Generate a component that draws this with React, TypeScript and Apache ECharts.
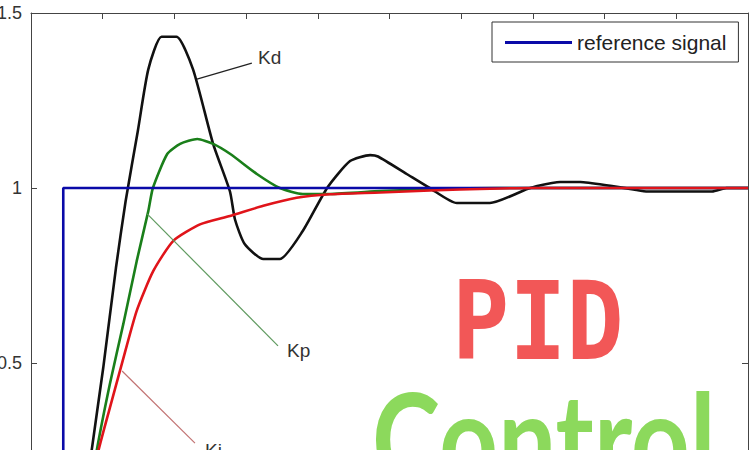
import React, { useEffect, useRef } from "react";
import * as echarts from "echarts";

// time (s) / response pairs
const refData: [number, number][] = [[0, 0], [0.45, 0], [0.45, 1], [10, 1]];
const kdData: [number, number][] = [
  [0, 0], [0.7, 0], [0.846, 0.25], [1.008, 0.487], [1.185, 0.772], [1.32, 0.963],
  [1.49, 1.163], [1.636, 1.339], [1.82, 1.432], [2.03, 1.432], [2.26, 1.339],
  [2.54, 1.126], [2.775, 0.99], [2.845, 0.91], [2.98, 0.84], [3.24, 0.797],
  [3.47, 0.797], [3.79, 0.877], [4.13, 1.0], [4.45, 1.077], [4.73, 1.094],
  [4.84, 1.09], [5.24, 1.04], [5.56, 1.0], [5.94, 0.957], [6.4, 0.957],
  [6.92, 0.997], [7.06, 1.006], [7.38, 1.017], [7.66, 1.017], [8.08, 1.006],
  [8.4, 0.996], [8.6, 0.99], [9.5, 0.99], [9.7, 1.0], [10, 1.0],
];
const kpData: [number, number][] = [
  [0, 0], [0.72, 0], [0.916, 0.249], [1.1, 0.44], [1.287, 0.611], [1.474, 0.791],
  [1.636, 0.934], [1.7, 1.0], [1.9, 1.097], [2.08, 1.126], [2.32, 1.14],
  [2.54, 1.126], [2.78, 1.097], [3.15, 1.04], [3.47, 1.0], [3.79, 0.983],
  [4.17, 0.983], [4.87, 0.991], [5.6, 0.997], [6.5, 1.0], [10, 1.0],
];
const kiData: [number, number][] = [
  [0, 0], [0.68, 0], [0.94, 0.249], [1.1, 0.372], [1.265, 0.496], [1.474, 0.649],
  [1.706, 0.763], [1.985, 0.849], [2.357, 0.896], [2.775, 0.92], [3.24, 0.949],
  [3.705, 0.972], [4.17, 0.982], [4.87, 0.987], [5.565, 0.993], [6.4, 0.998],
  [7, 1.0], [10, 1.0],
];
// leader lines for the annotations (data coordinates)
const kdLeader: [number, number][] = [[2.315, 1.311], [3.08, 1.357]];
const kpLeader: [number, number][] = [[1.62, 0.926], [3.445, 0.549]];
const kiLeader: [number, number][] = [[1.27, 0.477], [2.287, 0.271]];

const legendNames = ["reference signal"];

export default function App() {
  const ref = useRef<HTMLDivElement>(null);
  useEffect(() => {
    if (!ref.current) return;
    const chart = echarts.init(ref.current, null, { renderer: "svg" });
    const axisLine = { show: true, onZero: false, lineStyle: { color: "#444", width: 1 } };
    const axisTick = { show: true, inside: true, length: 6, lineStyle: { color: "#444" } };
    const leader = (pts: [number, number][], color: string) => ({
      silent: true,
      symbol: ["none", "none"],
      label: { show: false },
      emphasis: { disabled: true },
      lineStyle: { color, width: 1.2, type: "solid" },
      data: [[{ coord: pts[0] }, { coord: pts[1] }]],
    });
    chart.setOption({
      animation: false,
      backgroundColor: "#fff",
      grid: { left: 31, right: 2, top: 13, bottom: 22, outerBoundsMode: "none", containLabel: false },
      xAxis: [
        { type: "value", min: 0, max: 10, interval: 1, position: "bottom", axisLine, axisTick, axisLabel: { show: false }, splitLine: { show: false } },
        { type: "value", min: 0, max: 10, interval: 1, position: "top", axisLine, axisTick, axisLabel: { show: false }, splitLine: { show: false } },
      ],
      yAxis: [
        {
          type: "value", min: 0, max: 1.5, interval: 0.5, position: "left", axisLine, axisTick,
          axisLabel: { color: "#333", fontSize: 18, fontFamily: "Liberation Sans", margin: 9 },
          splitLine: { show: false },
        },
        { type: "value", min: 0, max: 1.5, interval: 0.5, position: "right", axisLine, axisTick, axisLabel: { show: false }, splitLine: { show: false } },
      ],
      legend: {
        data: legendNames,
        left: 492,
        top: 22,
        padding: [10, 12, 9, 13],
        itemWidth: 67,
        itemHeight: 3,
        icon: "rect",
        selectedMode: false,
        borderColor: "#333",
        borderWidth: 1,
        backgroundColor: "#fff",
        textStyle: { fontSize: 21, fontFamily: "Liberation Sans", color: "#222" },
      },
      series: [
        {
          name: "Kd", type: "line", data: kdData, showSymbol: false, symbol: "none", smooth: 0.2,
          lineStyle: { color: "#111", width: 2.6 }, itemStyle: { color: "#111" },
          markLine: leader(kdLeader, "#222"),
        },
        {
          name: "Kp", type: "line", data: kpData, showSymbol: false, symbol: "none", smooth: 0.2,
          lineStyle: { color: "#1a7f1a", width: 2.6 }, itemStyle: { color: "#1a7f1a" },
          markLine: leader(kpLeader, "#5f9a5f"),
        },
        {
          name: "reference signal", type: "line", data: refData, showSymbol: false, symbol: "none",
          lineStyle: { color: "#0a0aa8", width: 2.6 }, itemStyle: { color: "#0a0aa8" },
        },
        {
          name: "Ki", type: "line", data: kiData, showSymbol: false, symbol: "none", smooth: 0.2,
          lineStyle: { color: "#e0141a", width: 2.6 }, itemStyle: { color: "#e0141a" },
          markLine: leader(kiLeader, "#c27272"),
        },
      ],
      graphic: [
        { type: "text", x: 258, y: 57, style: { text: "Kd", fontSize: 19, fontFamily: "Liberation Sans", fill: "#333", verticalAlign: "middle" } },
        { type: "text", x: 287, y: 350, style: { text: "Kp", fontSize: 19, fontFamily: "Liberation Sans", fill: "#333", verticalAlign: "middle" } },
        { type: "text", x: 205, y: 441, style: { text: "Ki", fontSize: 19, fontFamily: "Liberation Sans", fill: "#333", verticalAlign: "top" } },
        {
          type: "text", x: 452, y: 322, scaleX: 0.88,
          style: { text: "PID", fontSize: 108, fontFamily: "DejaVu Sans Mono", fontWeight: "bold", fill: "#f25757", verticalAlign: "middle" },
        },
        {
          type: "text", x: 372, y: 436, scaleY: 1.25,
          style: { text: "Control", fontSize: 103, fontFamily: "Lato", fontWeight: "bold", fill: "#8cd95c", verticalAlign: "middle" },
        },
      ],
    });
    return () => chart.dispose();
  }, []);
  return (
    <div style={{ position: "fixed", left: 0, top: 0, width: 750, height: 450, overflow: "hidden", background: "#fff" }}>
      <div ref={ref} style={{ width: 750, height: 560 }} />
    </div>
  );
}
